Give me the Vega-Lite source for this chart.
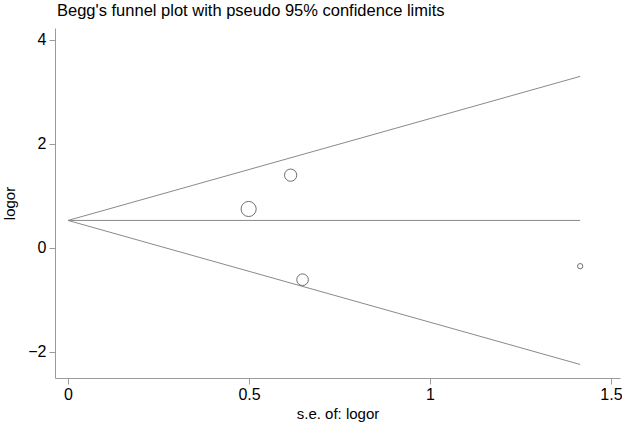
{
  "$schema": "https://vega.github.io/schema/vega-lite/v6.json",
  "width": 565,
  "height": 350,
  "autosize": {"type": "none"},
  "padding": {"left": 55, "top": 28, "right": 2, "bottom": 47},
  "background": "white",
  "title": {
    "text": "Begg's funnel plot with pseudo 95% confidence limits",
    "anchor": "start",
    "frame": "group",
    "font": "Liberation Sans",
    "fontSize": 16.5,
    "fontWeight": "normal",
    "color": "black",
    "offset": 9,
    "dx": 2
  },
  "config": {
    "view": {"stroke": null},
    "axis": {
      "grid": false,
      "domainColor": "#9a9a9a",
      "tickColor": "#9a9a9a",
      "tickSize": 6,
      "labelFont": "Liberation Sans",
      "titleFont": "Liberation Sans",
      "labelFontSize": 16,
      "titleFontSize": 15,
      "titleFontWeight": "normal",
      "labelColor": "black",
      "titleColor": "black"
    }
  },
  "datasets": {
    "funnel": [
      {"se": 0, "logor": 0.53, "line": "upper"},
      {"se": 1.415, "logor": 3.30, "line": "upper"},
      {"se": 0, "logor": 0.53, "line": "center"},
      {"se": 1.415, "logor": 0.53, "line": "center"},
      {"se": 0, "logor": 0.53, "line": "lower"},
      {"se": 1.415, "logor": -2.24, "line": "lower"}
    ],
    "studies": [
      {"se": 0.499, "logor": 0.75, "weight": 4.02},
      {"se": 0.615, "logor": 1.40, "weight": 2.64},
      {"se": 0.648, "logor": -0.61, "weight": 2.38},
      {"se": 1.415, "logor": -0.35, "weight": 0.50}
    ]
  },
  "layer": [
    {
      "data": {"name": "funnel"},
      "mark": {"type": "line", "color": "#8a8a8a", "strokeWidth": 1},
      "encoding": {
        "x": {
          "field": "se", "type": "quantitative",
          "scale": {"domain": [-0.036, 1.525], "nice": false, "zero": false},
          "axis": {"values": [0, 0.5, 1, 1.5], "format": "~g", "title": "s.e. of: logor", "labelPadding": 2, "titlePadding": 4}
        },
        "y": {
          "field": "logor", "type": "quantitative",
          "scale": {"domain": [-2.5, 4.23], "nice": false, "zero": false},
          "axis": {"values": [-2, 0, 2, 4], "title": "logor", "labelPadding": 3, "titlePadding": 10}
        },
        "detail": {"field": "line"}
      }
    },
    {
      "data": {"name": "studies"},
      "mark": {"type": "point", "shape": "circle", "filled": false, "stroke": "#707070", "strokeWidth": 1, "opacity": 1},
      "encoding": {
        "x": {"field": "se", "type": "quantitative"},
        "y": {"field": "logor", "type": "quantitative"},
        "size": {
          "field": "weight", "type": "quantitative",
          "scale": {"type": "linear", "domain": [0, 4], "range": [0, 227], "zero": true},
          "legend": null
        }
      }
    }
  ]
}
